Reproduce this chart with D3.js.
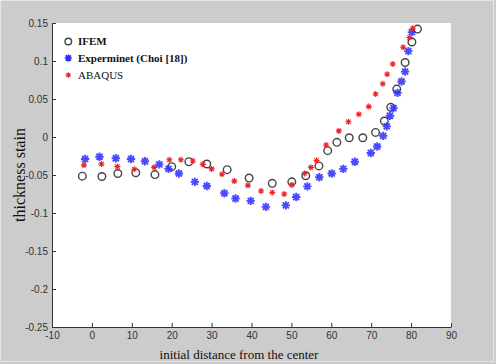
<!DOCTYPE html>
<html>
<head>
<meta charset="utf-8">
<script src="https://cdn.jsdelivr.net/npm/d3@7"></script>
<style>
  body { margin: 0; background: #cccccc; }
  svg { display: block; }
</style>
</head>
<body>
<div class="container"></div>
<script>
// values
const ifemX = [-2.4, 2.5, 6.5, 11, 15.8, 20, 24.3, 28.8, 33.9, 39.4, 45.2, 50.1, 53.6, 56.9, 59.1, 61.4, 64.5, 67.9, 71.1, 73.3, 74.9, 76.4, 78.5, 80.2, 81.6];
const ifemY = [-0.0515, -0.052, -0.048, -0.047, -0.0495, -0.039, -0.0325, -0.0355, -0.043, -0.054, -0.061, -0.059, -0.051, -0.038, -0.018, -0.007, -0.001, -0.001, 0.006, 0.021, 0.039, 0.063, 0.098, 0.125, 0.142];

const expX = [-1.7, 1.9, 6.0, 9.8, 13.3, 16.9, 19.2, 21.8, 25.8, 28.8, 33.2, 36.0, 39.8, 43.6, 48.6, 51.2, 54.0, 57.0, 60.1, 63.0, 65.9, 69.9, 71.5, 73.0, 73.9, 74.7, 75.6, 76.6, 77.6, 78.5, 79.3, 80.2];
const expY = [-0.029, -0.026, -0.028, -0.029, -0.032, -0.036, -0.042, -0.048, -0.059, -0.0645, -0.074, -0.081, -0.084, -0.092, -0.090, -0.079, -0.065, -0.053, -0.048, -0.042, -0.0325, -0.021, -0.0125, 0.0015, 0.014, 0.028, 0.038, 0.058, 0.073, 0.086, 0.113, 0.138];

const abqX = [-2.0, 2.4, 6.4, 10.6, 15.6, 19.4, 22.3, 25.3, 27.8, 30.0, 32.6, 35.7, 39.1, 42.4, 45.2, 48.2, 50.1, 53.3, 54.9, 56.3, 58.7, 61.9, 64.3, 66.9, 69.4, 71.1, 72.9, 74.0, 75.4, 78.0, 79.6, 80.4];
const abqY = [-0.037, -0.0355, -0.039, -0.0425, -0.040, -0.030, -0.030, -0.0316, -0.036, -0.042, -0.049, -0.058, -0.0636, -0.071, -0.073, -0.075, -0.063, -0.048, -0.040, -0.031, -0.0105, 0.008, 0.020, 0.030, 0.040, 0.0566, 0.070, 0.0825, 0.096, 0.118, 0.131, 0.143];

const xTicks = [-10, 0, 10, 20, 30, 40, 50, 60, 70, 80, 90];
const yTicks = [-0.25, -0.2, -0.15, -0.1, -0.05, 0, 0.05, 0.1, 0.15];
const legendLabels = ['IFEM', 'Experminet (Choi [18])', 'ABAQUS'];

const W = 496, H = 364;
const svg = d3.select('div.container').append('svg')
	.attr('width', W).attr('height', H);

svg.append('rect')
	.attr('x', 0.5).attr('y', 0.5)
	.attr('width', W - 3).attr('height', H - 3)
	.style('fill', '#cccccc')
	.style('stroke', '#e6e6e6');

const x = d3.scaleLinear().domain([-10, 90]).range([52, 451]);
const y = d3.scaleLinear().domain([-0.25, 0.15]).range([327, 23]);

svg.append('rect')
	.attr('x', x(-10)).attr('y', y(0.15))
	.attr('width', x(90) - x(-10)).attr('height', y(-0.25) - y(0.15))
	.style('fill', '#ffffff');

const fmt = d => (d === 0 ? '0' : String(d));

// bottom axis, ticks pointing inward
const xAxis = svg.append('g')
	.attr('transform', 'translate(0,' + y(-0.25) + ')')
	.call(d3.axisBottom(x).tickValues(xTicks).tickSizeInner(-4).tickSizeOuter(0).tickPadding(6).tickFormat(fmt));
xAxis.select('.domain').style('stroke', '#333');
xAxis.selectAll('line').style('stroke', '#333');
xAxis.selectAll('text')
	.style('font-family', 'Liberation Sans, Arial, sans-serif')
	.style('font-size', '10px').style('fill', '#333')
	.attr('dy', '0.55em');

const yAxis = svg.append('g')
	.attr('transform', 'translate(' + x(-10) + ',0)')
	.call(d3.axisLeft(y).tickValues(yTicks).tickSizeInner(-4).tickSizeOuter(0).tickPadding(4).tickFormat(fmt));
yAxis.select('.domain').style('stroke', '#333');
yAxis.selectAll('line').style('stroke', '#333');
yAxis.selectAll('text')
	.style('font-family', 'Liberation Sans, Arial, sans-serif')
	.style('font-size', '10px').style('fill', '#333');

const zip = (xs, ys) => xs.map((v, i) => ({ x: v, y: ys[i] }));

const starPath = r => {
	const d = r * 0.72;
	return 'M' + (-r) + ',0H' + r + 'M0,' + (-r) + 'V' + r +
		'M' + (-d) + ',' + (-d) + 'L' + d + ',' + d +
		'M' + (-d) + ',' + d + 'L' + d + ',' + (-d);
};

const layer = svg.append('g');

layer.selectAll('.ifem')
	.data(zip(ifemX, ifemY))
	.enter()
	.append('circle')
	.attr('class', 'ifem')
	.attr('cx', d => x(d.x))
	.attr('cy', d => y(d.y))
	.attr('r', 3.8)
	.style('fill', 'none')
	.style('stroke', '#444')
	.style('stroke-width', 1.4);

layer.selectAll('.exp')
	.data(zip(expX, expY))
	.enter()
	.append('path')
	.attr('class', 'exp')
	.attr('transform', d => 'translate(' + x(d.x) + ',' + y(d.y) + ')')
	.attr('d', starPath(4.2))
	.style('stroke', '#2a2aff')
	.style('stroke-width', 1.9)
	.style('opacity', 0.85);

layer.selectAll('.abq')
	.data(zip(abqX, abqY))
	.enter()
	.append('path')
	.attr('class', 'abq')
	.attr('transform', d => 'translate(' + x(d.x) + ',' + y(d.y) + ')')
	.attr('d', starPath(3))
	.style('stroke', '#ee2222')
	.style('stroke-width', 1.1);

// legend
const leg = svg.append('g');
const legY = [41.5, 58, 75];
leg.append('circle').attr('cx', 68.3).attr('cy', legY[0]).attr('r', 3.3)
	.style('fill', 'none').style('stroke', '#444').style('stroke-width', 1.4);
leg.append('path').attr('transform', 'translate(68.3,' + legY[1] + ')').attr('d', starPath(3.6))
	.style('stroke', '#2a2aff').style('stroke-width', 1.7);
leg.append('path').attr('transform', 'translate(68.3,' + legY[2] + ')').attr('d', starPath(2.7))
	.style('stroke', '#ee2222').style('stroke-width', 1.1);
leg.selectAll('text')
	.data(legendLabels)
	.enter()
	.append('text')
	.attr('x', 78)
	.attr('y', (d, i) => legY[i] + 3.5)
	.text(d => d)
	.style('font-family', 'Liberation Serif, Times New Roman, serif')
	.style('font-size', '11px')
	.style('font-weight', (d, i) => i === 2 ? 'normal' : 'bold')
	.style('fill', '#111');

svg.append('text')
	.attr('x', 239).attr('y', 359)
	.attr('text-anchor', 'middle')
	.text('initial distance from the center')
	.style('font-family', 'Liberation Serif, Times New Roman, serif')
	.style('font-size', '13px').style('fill', '#111');

svg.append('text')
	.attr('transform', 'translate(25,175) rotate(-90)')
	.attr('text-anchor', 'middle')
	.text('thickness stain')
	.style('font-family', 'Liberation Serif, Times New Roman, serif')
	.style('font-size', '16px').style('fill', '#111');
</script>
</body>
</html>
